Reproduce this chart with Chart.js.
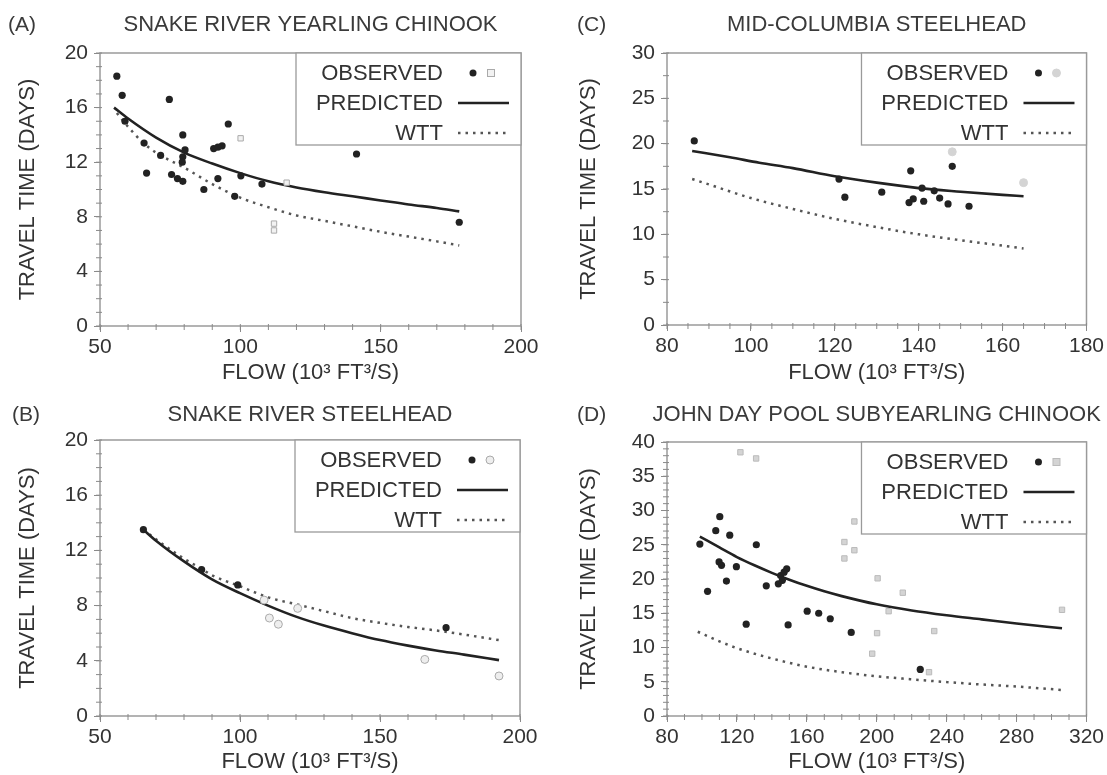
<!DOCTYPE html>
<html><head><meta charset="utf-8">
<script src="https://cdn.jsdelivr.net/npm/chart.js@4.4.0/dist/chart.umd.min.js"></script>
<style>
html,body{margin:0;padding:0;background:#fff;width:1107px;height:775px;overflow:hidden}
canvas{position:absolute}
</style></head><body>
<canvas id="cA" width="553" height="387" style="left:0;top:0"></canvas>
<canvas id="cC" width="554" height="387" style="left:553px;top:0"></canvas>
<canvas id="cB" width="553" height="388" style="left:0;top:387px"></canvas>
<canvas id="cD" width="554" height="388" style="left:553px;top:387px"></canvas>
<script>
// ---------- DATA ----------
// (A) Snake River yearling chinook
const aObsX = [56.0,57.9,58.9,74.7,95.7,79.5,90.5,92.0,93.5,80.3,79.5,79.3,65.7,71.6,66.6,75.5,77.6,79.5,87.0,92.0,98.0,100.2,107.7,141.4,178.0];
const aObsY = [18.3,16.9,15.0,16.6,14.8,14.0,13.0,13.1,13.2,12.9,12.4,12.0,13.4,12.5,11.2,11.1,10.8,10.6,10.0,10.8,9.5,11.0,10.4,12.6,7.6];
const aAltX = [100.1,112.0,112.0,116.5];
const aAltY = [13.75,7.5,7.0,10.5];
const aPredX = [55,60,70,80,90,100,110,120,130,140,150,160,170,178];
const aPredY = [16.0,15.2,13.8,12.7,11.9,11.2,10.6,10.15,9.8,9.5,9.2,8.9,8.65,8.4];
const aWttX = [56,60,65,70,80,90,100,110,120,130,140,150,160,170,178];
const aWttY = [15.6,14.6,13.5,12.7,11.6,10.4,9.4,8.7,8.1,7.7,7.3,6.9,6.55,6.2,5.9];

// (C) Mid-Columbia steelhead
const cObsX = [86.5,121.0,122.4,131.2,138.1,137.7,138.7,140.8,141.2,143.7,145.0,147.0,148.0,152.0];
const cObsY = [20.3,16.1,14.1,14.65,17.0,13.5,13.9,15.1,13.65,14.8,14.0,13.35,17.5,13.1];
const cAltX = [148.0,165.0];
const cAltY = [19.1,15.7];
const cPredX = [86,95,102,110,120,130,140,150,160,165];
const cPredY = [19.2,18.5,17.9,17.3,16.4,15.7,15.1,14.7,14.35,14.2];
const cWttX = [86,90,100,110,120,130,140,150,160,165];
const cWttY = [16.1,15.5,14.0,12.8,11.7,10.8,10.0,9.35,8.75,8.45];

// (B) Snake River steelhead
const bObsX = [65.5,86.3,99.2,173.6];
const bObsY = [13.5,10.6,9.5,6.4];
const bAltX = [108.6,110.5,113.7,120.6,166.0,192.5];
const bAltY = [8.4,7.1,6.65,7.8,4.1,2.9];
const bPredX = [65.5,70,80,90,100,110,120,130,140,150,160,170,180,192.5];
const bPredY = [13.5,12.7,11.2,9.9,8.9,8.0,7.2,6.55,6.0,5.5,5.1,4.75,4.45,4.05];
const bWttX = [65.5,70,80,86,90,100,110,120,130,140,150,160,170,180,192.5];
const bWttY = [13.5,12.8,11.4,10.7,10.2,9.4,8.6,8.1,7.6,7.1,6.75,6.45,6.2,5.9,5.5];

// (D) John Day pool subyearling chinook
const dObsX = [98.8,110.2,107.9,115.9,131.1,109.8,111.2,119.7,114.0,103.2,136.8,143.7,145.0,147.0,148.5,146.0,125.3,149.3,160.2,166.8,173.4,185.4,224.9];
const dObsY = [25.1,29.1,27.05,26.4,25.0,22.5,22.0,21.8,19.7,18.2,19.0,19.3,20.5,21.0,21.5,19.8,13.4,13.3,15.3,15.0,14.2,12.2,6.8];
const dAltX = [122.0,131.0,187.2,181.5,187.2,181.5,200.5,200.2,197.4,206.8,214.9,232.9,229.9,306.0];
const dAltY = [38.5,37.6,28.4,25.4,24.2,23.0,20.1,12.1,9.1,15.3,18.0,12.4,6.4,15.5];
const dPredX = [98.8,110,120,130,140,150,160,170,180,200,220,240,260,280,306];
const dPredY = [26.2,24.6,23.2,22.0,20.9,19.9,19.0,18.2,17.5,16.3,15.4,14.7,14.1,13.5,12.8];
const dWttX = [97.6,110,120,140,160,180,200,220,240,260,280,306];
const dWttY = [12.3,10.9,9.9,8.4,7.2,6.4,5.8,5.35,4.95,4.6,4.3,3.8];

// texts
const xTitleText = 'FLOW (10\u00B3 FT\u00B3/S)';
const yTitleText = 'TRAVEL TIME (DAYS)';
const legendLabels = ['OBSERVED','PREDICTED','WTT'];

// ---------- RENDER ----------
const FONT = '"Liberation Sans", Arial, Helvetica, sans-serif';
Chart.defaults.font.family = FONT;
const TXT = '#333';
const AX = '#8a8a8a';

function pts(xs, ys){ return xs.map((x,i)=>({x:x, y:ys[i]})); }
function range(a,b,s){ const r=[]; for(let v=a; v<=b+1e-9; v+=s) r.push(+v.toFixed(4)); return r; }

function drawAlt(ctx, style, x, y){
  ctx.save();
  ctx.lineWidth = 1;
  ctx.fillStyle = style.fill; ctx.strokeStyle = style.stroke;
  if (style.shape === 'rect'){
    ctx.fillRect(x-3.5,y-3.5,7,7); ctx.strokeRect(x-3.5,y-3.5,7,7);
  } else {
    ctx.beginPath(); ctx.arc(x,y,4,0,Math.PI*2); ctx.fill(); ctx.stroke();
  }
  ctx.restore();
}

const decor = {
  id:'decor',
  beforeDatasetsDraw(chart){
    const P = chart.options.plugins.decor;
    const {ctx, chartArea:a} = chart;
    const sx = chart.scales.x, sy = chart.scales.y;
    ctx.save();
    ctx.strokeStyle = '#9a9a9a'; ctx.lineWidth = 1.5;
    ctx.strokeRect(a.left, a.top, a.right-a.left, a.bottom-a.top);
    ctx.strokeStyle = AX; ctx.lineWidth = 1;
    ctx.beginPath();
    for (const v of range(P.xMin, P.xMax, P.xMinor)){
      const px = sx.getPixelForValue(v);
      ctx.moveTo(px, a.bottom-2); ctx.lineTo(px, a.bottom+4);
    }
    for (const v of range(P.yMin, P.yMax, P.yMinor)){
      const py = sy.getPixelForValue(v);
      ctx.moveTo(a.left+2, py); ctx.lineTo(a.left-4, py);
    }
    ctx.stroke();
    ctx.fillStyle = '#3a3a3a';
    ctx.textBaseline = 'middle';
    ctx.font = '21px ' + FONT;
    ctx.textAlign = 'left';
    ctx.fillText(P.letter, P.letterX, P.titleY);
    ctx.font = '22px ' + FONT;
    ctx.textAlign = 'center';
    ctx.fillText(P.title, (a.left+a.right)/2, P.titleY);
    ctx.restore();
  },
  afterDatasetsDraw(chart){
    const P = chart.options.plugins.decor;
    const {ctx, chartArea:a} = chart;
    const R = a.right, T = a.top, w = 225, h = 92;
    ctx.save();
    ctx.fillStyle = '#fff'; ctx.fillRect(R-w, T, w, h);
    ctx.strokeStyle = '#9a9a9a'; ctx.lineWidth = 1.3; ctx.strokeRect(R-w, T, w, h);
    ctx.fillStyle = TXT; ctx.font = '22px ' + FONT;
    ctx.textAlign = 'right'; ctx.textBaseline = 'middle';
    ctx.fillText(legendLabels[0], R-78, T+21);
    ctx.fillText(legendLabels[1], R-78, T+51);
    ctx.fillText(legendLabels[2], R-78, T+81);
    ctx.fillStyle = '#222';
    ctx.beginPath(); ctx.arc(R-48, T+20, 3.5, 0, Math.PI*2); ctx.fill();
    drawAlt(ctx, P.alt, R-30, T+20);
    ctx.strokeStyle = '#222'; ctx.lineWidth = 2.5;
    ctx.beginPath(); ctx.moveTo(R-63, T+50); ctx.lineTo(R-12, T+50); ctx.stroke();
    ctx.strokeStyle = '#555'; ctx.lineWidth = 2.5; ctx.setLineDash([2.5,5]);
    ctx.beginPath(); ctx.moveTo(R-63, T+80); ctx.lineTo(R-12, T+80); ctx.stroke();
    ctx.restore();
  }
};

function build(id, P){
  const alt = P.alt;
  new Chart(document.getElementById(id), {
    type:'scatter',
    data:{ datasets:[
      { data: pts(P.predX, P.predY), showLine:true, pointRadius:0, borderColor:'#222', borderWidth:2.6,
        cubicInterpolationMode:'monotone', fill:false, order:3 },
      { data: pts(P.wttX, P.wttY), showLine:true, pointRadius:0, borderColor:'#555', borderWidth:2.5,
        borderDash:[2.5,5], cubicInterpolationMode:'monotone', fill:false, order:4 },
      { data: pts(P.altX, P.altY), pointStyle: alt.shape === 'rect' ? 'rect' : 'circle',
        pointRadius: alt.shape === 'rect' ? 3.8 : 4, backgroundColor: alt.fill, borderColor: alt.stroke,
        borderWidth:1, order:2 },
      { data: pts(P.obsX, P.obsY), pointStyle:'circle', pointRadius:3.6, backgroundColor:'#222',
        borderColor:'#222', borderWidth:0, order:1 }
    ]},
    options:{
      responsive:false, animation:false, devicePixelRatio:1,
      layout:{ padding:{ left:0, top:P.padTop, right:P.padRight, bottom:0 } },
      plugins:{ legend:{display:false}, tooltip:{enabled:false}, title:{display:false}, decor:P },
      scales:{
        x:{ type:'linear', min:P.xMin, max:P.xMax,
          ticks:{ stepSize:P.xStep, color:TXT, font:{size:21}, padding:3, maxRotation:0, autoSkip:false },
          grid:{ drawOnChartArea:false, drawTicks:true, tickLength:6, tickColor:AX, color:AX },
          border:{ display:false },
          title:{ display:true, text:xTitleText, color:TXT, font:{size:22}, padding:{top:0,bottom:P.xTitlePad} },
          afterFit(s){ s.height = P.xHeight; }
        },
        y:{ type:'linear', min:P.yMin, max:P.yMax,
          ticks:{ stepSize:P.yStep, color:TXT, font:{size:21}, padding:6, autoSkip:false },
          grid:{ drawOnChartArea:false, drawTicks:true, tickLength:6, tickColor:AX, color:AX },
          border:{ display:false },
          title:{ display:true, text:yTitleText, color:TXT, font:{size:22}, padding:{top:P.yTitlePad,bottom:0} },
          afterFit(s){ s.width = P.yWidth; }
        }
      }
    },
    plugins:[decor]
  });
}

build('cA', { letter:'(A)', letterX:8, title:'SNAKE RIVER YEARLING CHINOOK', titleY:25,
  xMin:50, xMax:200, xStep:50, xMinor:10, yMin:0, yMax:20, yStep:4, yMinor:1,
  padTop:53, padRight:32, yWidth:100, xHeight:61, yTitlePad:15, xTitlePad:1,
  obsX:aObsX, obsY:aObsY, altX:aAltX, altY:aAltY, predX:aPredX, predY:aPredY, wttX:aWttX, wttY:aWttY,
  alt:{shape:'rect', fill:'#f2f2f2', stroke:'#aaa'} });

build('cC', { letter:'(C)', letterX:24, title:'MID-COLUMBIA STEELHEAD', titleY:25,
  xMin:80, xMax:180, xStep:20, xMinor:5, yMin:0, yMax:30, yStep:5, yMinor:2.5,
  padTop:53, padRight:19, yWidth:114, xHeight:62, yTitlePad:23, xTitlePad:1,
  obsX:cObsX, obsY:cObsY, altX:cAltX, altY:cAltY, predX:cPredX, predY:cPredY, wttX:cWttX, wttY:cWttY,
  alt:{shape:'circle', fill:'#d4d4d4', stroke:'#d4d4d4'} });

build('cB', { letter:'(B)', letterX:12, title:'SNAKE RIVER STEELHEAD', titleY:28,
  xMin:50, xMax:200, xStep:50, xMinor:10, yMin:0, yMax:20, yStep:4, yMinor:1,
  padTop:53, padRight:33, yWidth:100, xHeight:59, yTitlePad:15, xTitlePad:0,
  obsX:bObsX, obsY:bObsY, altX:bAltX, altY:bAltY, predX:bPredX, predY:bPredY, wttX:bWttX, wttY:bWttY,
  alt:{shape:'circle', fill:'#eeeeee', stroke:'#aaa'} });

build('cD', { letter:'(D)', letterX:24, title:'JOHN DAY POOL SUBYEARLING CHINOOK', titleY:28,
  xMin:80, xMax:320, xStep:40, xMinor:10, yMin:0, yMax:40, yStep:5, yMinor:1,
  padTop:55, padRight:19, yWidth:114, xHeight:59, yTitlePad:23, xTitlePad:0,
  obsX:dObsX, obsY:dObsY, altX:dAltX, altY:dAltY, predX:dPredX, predY:dPredY, wttX:dWttX, wttY:dWttY,
  alt:{shape:'rect', fill:'#d4d4d4', stroke:'#bbb'} });
</script>
</body></html>
